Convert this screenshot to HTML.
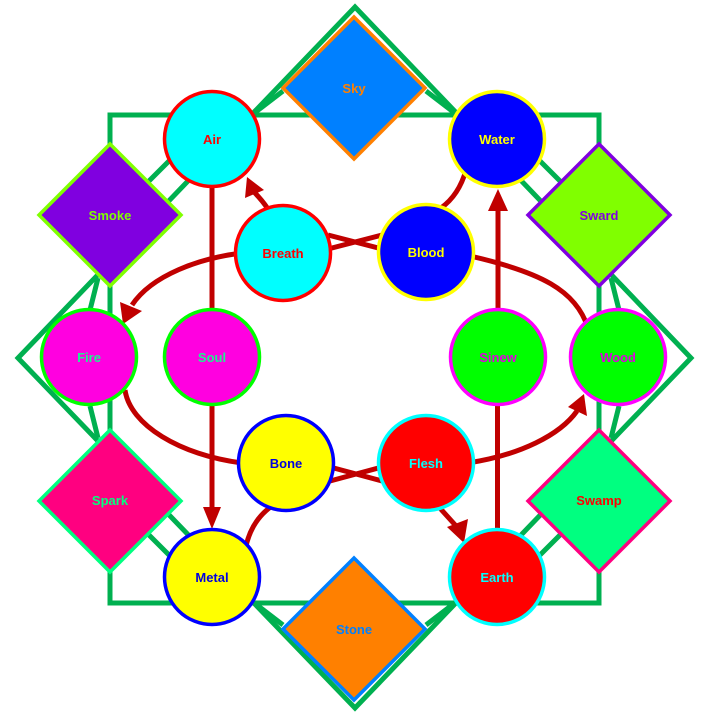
<!DOCTYPE html>
<html><head><meta charset="utf-8"><style>
html,body{margin:0;padding:0;background:#fff;}
svg{display:block;}
text{font-family:"Liberation Sans",sans-serif;font-weight:bold;font-size:13px;text-anchor:middle;}
</style></head><body>
<svg width="714" height="714" viewBox="0 0 714 714" xmlns="http://www.w3.org/2000/svg">
<!-- green structure -->
<g fill="none" stroke="#00b050" stroke-width="5" stroke-linejoin="miter">
  <rect x="110" y="115" width="489" height="488"/>
  <polygon points="355,7 691,358 355,708 18,358"/>
  <line x1="283" y1="91" x2="253" y2="114"/>
  <line x1="170" y1="160" x2="148" y2="182"/>
  <line x1="98" y1="278" x2="90" y2="310"/>
  <line x1="426" y1="91" x2="456" y2="114"/>
  <line x1="539" y1="160" x2="561" y2="182"/>
  <line x1="611" y1="278" x2="619" y2="310"/>
  <line x1="283" y1="625" x2="253" y2="602"/>
  <line x1="170" y1="556" x2="148" y2="534"/>
  <line x1="98" y1="438" x2="90" y2="406"/>
  <line x1="426" y1="625" x2="456" y2="602"/>
  <line x1="539" y1="556" x2="561" y2="534"/>
  <line x1="611" y1="438" x2="619" y2="406"/>
</g>
<!-- red connectors -->
<g fill="none" stroke="#c00000" stroke-width="5">
  <line x1="212" y1="180" x2="212" y2="512"/>
  <line x1="498" y1="312" x2="498" y2="206"/>
  <line x1="497.5" y1="400" x2="497.5" y2="532"/>
  <path d="M268,209 Q262,200 254,192"/>
  <path d="M441,208 Q459,195 466,170"/>
  <path d="M588,328 C576,290 540,272 470,256"/>
  <path d="M242,253 C200,258 152,275 132,305"/>
  <path d="M125,390 C130,425 180,455 242,463"/>
  <path d="M468,463 C520,455 560,435 577,411"/>
  <path d="M272,506 Q252,520 246,546"/>
  <line x1="438" y1="506" x2="457" y2="527"/>
  <line x1="328" y1="235" x2="382" y2="249"/>
  <line x1="328" y1="249" x2="382" y2="235"/>
  <line x1="330" y1="467" x2="382" y2="481"/>
  <line x1="330" y1="481" x2="382" y2="467"/>
</g>
<g fill="#c00000" stroke="none">
  <polygon points="212,529 203,507 221,507"/>
  <polygon points="498,189 488,211 508,211"/>
  <polygon points="247,177 245,198 264,190"/>
  <polygon points="123,324 120,302 142,311"/>
  <polygon points="584,394 568,407 587,416"/>
  <polygon points="464,543 447,527 468,519"/>
</g>
<!-- diamonds -->
<g stroke-width="3.5">
  <polygon points="354,17 425,88 354,159 283,88" fill="#0080ff" stroke="#ff8000"/>
  <polygon points="110,144 181,215 110,286 39,215" fill="#8000e0" stroke="#80ff00"/>
  <polygon points="599,144 670,215 599,286 528,215" fill="#80ff00" stroke="#8000e0"/>
  <polygon points="110,430 181,501 110,572 39,501" fill="#ff0080" stroke="#00ff80"/>
  <polygon points="599,430 670,501 599,572 528,501" fill="#00ff80" stroke="#ff0080"/>
  <polygon points="354,558 425,629 354,700 283,629" fill="#ff8000" stroke="#0080ff"/>
</g>
<!-- circles -->
<g stroke-width="3.5">
  <circle cx="212" cy="139" r="47.5" fill="#00ffff" stroke="#ff0000"/>
  <circle cx="283" cy="253" r="47.5" fill="#00ffff" stroke="#ff0000"/>
  <circle cx="497" cy="139" r="47.5" fill="#0000ff" stroke="#ffff00"/>
  <circle cx="426" cy="252" r="47.5" fill="#0000ff" stroke="#ffff00"/>
  <circle cx="89" cy="357" r="47.5" fill="#ff00e0" stroke="#00ff00"/>
  <circle cx="212" cy="357" r="47.5" fill="#ff00e0" stroke="#00ff00"/>
  <circle cx="498" cy="357" r="47.5" fill="#00ff00" stroke="#ff00ff"/>
  <circle cx="618" cy="357" r="47.5" fill="#00ff00" stroke="#ff00ff"/>
  <circle cx="286" cy="463" r="47.5" fill="#ffff00" stroke="#0000ff"/>
  <circle cx="426" cy="463" r="47.5" fill="#ff0000" stroke="#00ffff"/>
  <circle cx="212" cy="577" r="47.5" fill="#ffff00" stroke="#0000ff"/>
  <circle cx="497" cy="577" r="47.5" fill="#ff0000" stroke="#00ffff"/>
</g>
<!-- labels -->
<text x="354" y="93" fill="#ff8000">Sky</text>
<text x="110" y="220" fill="#80ff00">Smoke</text>
<text x="599" y="220" fill="#8000e0">Sward</text>
<text x="110" y="505" fill="#00ff80">Spark</text>
<text x="599" y="505" fill="#ff0000">Swamp</text>
<text x="354" y="634" fill="#0080ff">Stone</text>
<text x="212" y="144" fill="#ff0000">Air</text>
<text x="283" y="258" fill="#ff0000">Breath</text>
<text x="497" y="144" fill="#ffff00">Water</text>
<text x="426" y="257" fill="#ffff00">Blood</text>
<text x="89" y="362" fill="#20f090">Fire</text>
<text x="212" y="362" fill="#20f090">Soul</text>
<text x="498" y="362" fill="#e000e0">Sinew</text>
<text x="618" y="362" fill="#e000e0">Wood</text>
<text x="286" y="468" fill="#0000e0">Bone</text>
<text x="426" y="468" fill="#00ffff">Flesh</text>
<text x="212" y="582" fill="#0000e0">Metal</text>
<text x="497" y="582" fill="#00ffff">Earth</text>
</svg>
</body></html>
